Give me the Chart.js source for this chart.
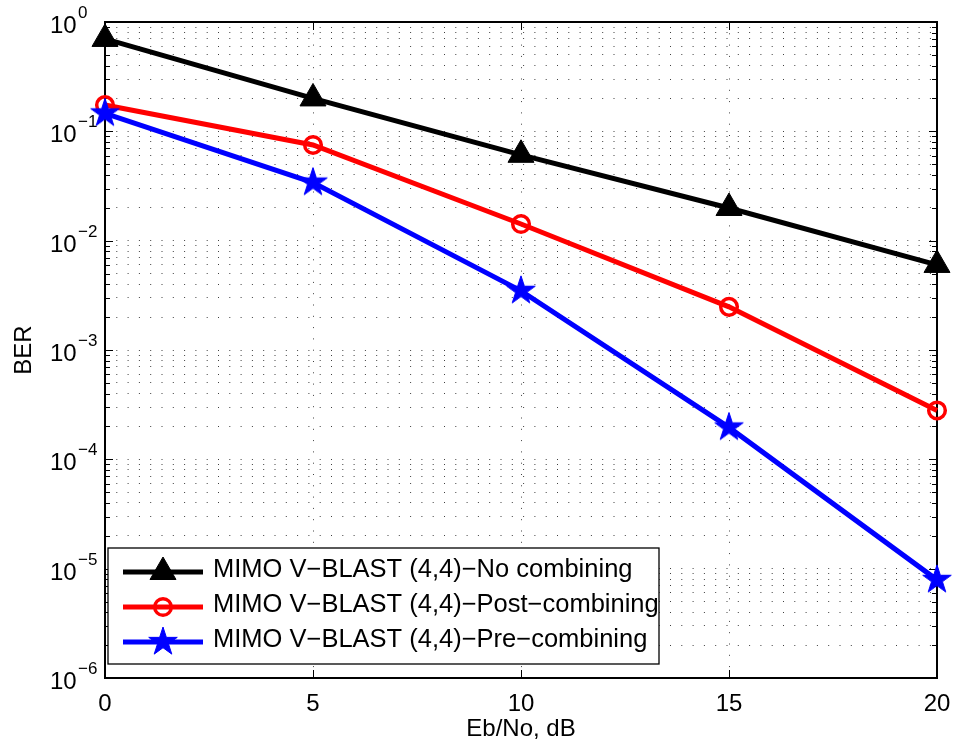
<!DOCTYPE html>
<html>
<head>
<meta charset="utf-8">
<title>BER vs Eb/No</title>
<script src="https://cdn.jsdelivr.net/npm/chart.js@4.4.1/dist/chart.umd.min.js"></script>
<style>
  html, body { margin: 0; padding: 0; background: #fff; }
  canvas { display: block; }
</style>
</head>
<body>
<canvas id="ber" width="954" height="749"></canvas>
<script>
// Eb/No points (dB) and measured bit error rates
const ebNo = [0, 5, 10, 15, 20];
const berNoCombining   = [0.70, 0.20, 0.061, 0.0199, 0.0060];
const berPostCombining = [0.174, 0.075, 0.0142, 0.00248, 0.00028];
const berPreCombining  = [0.146, 0.034, 0.00348, 0.000196, 0.0000079];

const seriesLabels = [
  'MIMO V\u2212BLAST (4,4)\u2212No combining',
  'MIMO V\u2212BLAST (4,4)\u2212Post\u2212combining',
  'MIMO V\u2212BLAST (4,4)\u2212Pre\u2212combining'
];

// axis ticks
const xTicks = [0, 5, 10, 15, 20];
const yExponents = [0, -1, -2, -3, -4, -5, -6];
const yMantissas = [1, 2, 3, 4, 5, 6, 7, 8, 9];

const FONT = "'Liberation Sans', Arial, Helvetica, sans-serif";

// filled five-point star used as a marker
function makeStar(R, color) {
  const size = Math.ceil(R * 2 + 4);
  const c = document.createElement('canvas');
  c.width = size; c.height = size;
  const g = c.getContext('2d');
  const cx = size / 2, cy = size / 2;
  g.beginPath();
  for (let i = 0; i < 10; i++) {
    const r = i % 2 ? R * 0.382 : R;
    const a = -Math.PI / 2 + i * Math.PI / 5;
    g.lineTo(cx + r * Math.cos(a), cy + r * Math.sin(a));
  }
  g.closePath();
  g.fillStyle = color; g.fill();
  g.strokeStyle = color; g.lineWidth = 1; g.stroke();
  return c;
}
const blueStar = makeStar(15, '#0000ff');

function toPoints(ys) { return ebNo.map((x, i) => ({ x: x, y: ys[i] })); }

// y tick values: every mantissa of every decade
function buildLogTicks() {
  const ticks = [];
  yExponents.forEach(e => {
    yMantissas.forEach(m => {
      const v = m * Math.pow(10, e);
      if (v <= 1 + 1e-12) ticks.push({ value: v, major: m === 1 });
    });
  });
  return ticks.sort((a, b) => a.value - b.value);
}

const frameAndTicks = {
  id: 'frameAndTicks',
  beforeDatasetsDraw(chart) {
    const { ctx, chartArea: a, scales: { x, y } } = chart;
    ctx.save();
    ctx.strokeStyle = '#000';
    ctx.lineWidth = 1;
    ctx.beginPath();
    xTicks.forEach(v => {
      const px = Math.round(x.getPixelForValue(v)) + 0.5;
      ctx.moveTo(px, a.bottom); ctx.lineTo(px, a.bottom - 8);
      ctx.moveTo(px, a.top); ctx.lineTo(px, a.top + 8);
    });
    y.ticks.forEach(t => {
      const py = Math.round(y.getPixelForValue(t.value)) + 0.5;
      const len = t.major ? 8 : 5;
      ctx.moveTo(a.left, py); ctx.lineTo(a.left + len, py);
      ctx.moveTo(a.right, py); ctx.lineTo(a.right - len, py);
    });
    ctx.stroke();
    ctx.lineWidth = 2;
    ctx.strokeRect(Math.round(a.left), Math.round(a.top), Math.round(a.right - a.left), Math.round(a.bottom - a.top));
    ctx.restore();
  },
  afterDatasetsDraw(chart) {
    const { ctx } = chart;
    const box = { left: 108, top: 548, right: 659, bottom: 664 };
    ctx.save();
    ctx.fillStyle = '#fff';
    ctx.fillRect(box.left, box.top, box.right - box.left, box.bottom - box.top);
    ctx.strokeStyle = '#000';
    ctx.lineWidth = 1.3;
    ctx.strokeRect(box.left, box.top, box.right - box.left, box.bottom - box.top);
    chart.data.datasets.forEach((ds, i) => {
      const rowY = 572 + i * 35;
      ctx.strokeStyle = ds.borderColor;
      ctx.lineWidth = ds.borderWidth;
      ctx.beginPath();
      ctx.moveTo(123, rowY); ctx.lineTo(203, rowY);
      ctx.stroke();
      ctx.fillStyle = ds.pointBackgroundColor;
      ctx.strokeStyle = ds.pointBorderColor;
      ctx.lineWidth = ds.pointBorderWidth;
      Chart.helpers.drawPoint(ctx, {
        pointStyle: ds.pointStyle, radius: ds.pointRadius, rotation: 0, borderWidth: ds.pointBorderWidth
      }, 163, rowY);
      ctx.fillStyle = '#000';
      ctx.font = '25.5px ' + FONT;
      ctx.textAlign = 'left';
      ctx.textBaseline = 'middle';
      ctx.fillText(ds.label, 213, rowY - 2);
    });
    ctx.restore();
  },
  afterDraw(chart) {
    const { ctx, scales: { y } } = chart;
    ctx.save();
    ctx.fillStyle = '#000';
    ctx.textAlign = 'left';
    ctx.textBaseline = 'alphabetic';
    yExponents.forEach(e => {
      const py = y.getPixelForValue(Math.pow(10, e));
      ctx.font = '24px ' + FONT;
      ctx.fillText('10', 50, py + 11);
      ctx.font = '17px ' + FONT;
      ctx.fillText(e === 0 ? '0' : '\u2212' + Math.abs(e), 78, py - 4);
    });
    ctx.restore();
  }
};

const gridStyle = { color: 'rgba(0,0,0,0.75)', lineWidth: 1, drawTicks: false };
const gridBorder = { display: false, dash: [1, 10.3] };

new Chart(document.getElementById('ber'), {
  type: 'line',
  data: {
    datasets: [
      {
        label: seriesLabels[0], data: toPoints(berNoCombining),
        borderColor: '#000000', backgroundColor: '#000000', borderWidth: 5,
        pointStyle: 'triangle', pointRadius: 15, pointBorderWidth: 1,
        pointBackgroundColor: '#000000', pointBorderColor: '#000000',
        order: 3, clip: false
      },
      {
        label: seriesLabels[1], data: toPoints(berPostCombining),
        borderColor: '#ff0000', backgroundColor: '#ff0000', borderWidth: 5,
        pointStyle: 'circle', pointRadius: 8.3, pointBorderWidth: 3.5,
        pointBackgroundColor: 'rgba(0,0,0,0)', pointBorderColor: '#ff0000',
        order: 2, clip: false
      },
      {
        label: seriesLabels[2], data: toPoints(berPreCombining),
        borderColor: '#0000ff', backgroundColor: '#0000ff', borderWidth: 5,
        pointStyle: blueStar, pointRadius: 15, pointBorderWidth: 0,
        pointBackgroundColor: '#0000ff', pointBorderColor: '#0000ff',
        order: 1, clip: false
      }
    ]
  },
  options: {
    responsive: false,
    animation: false,
    devicePixelRatio: 1,
    events: [],
    layout: { padding: { top: 22, right: 17, left: 0, bottom: 0 } },
    plugins: { legend: { display: false }, tooltip: { enabled: false } },
    scales: {
      x: {
        type: 'linear', min: 0, max: 20,
        afterBuildTicks: s => { s.ticks = xTicks.map(v => ({ value: v })); },
        afterFit: s => { s.height = 71; s.paddingLeft = 0; s.paddingRight = 0; },
        grid: gridStyle, border: gridBorder,
        ticks: { font: { family: FONT, size: 24 }, color: '#000', padding: 12, maxRotation: 0, autoSkip: false },
        title: { display: true, text: 'Eb/No, dB', font: { family: FONT, size: 24 }, color: '#000', padding: { top: 0, bottom: 5 } }
      },
      y: {
        type: 'logarithmic', min: 1e-6, max: 1,
        afterBuildTicks: s => { s.ticks = buildLogTicks(); },
        afterFit: s => { s.width = 105; s.paddingTop = 0; s.paddingBottom = 0; },
        grid: gridStyle, border: gridBorder,
        ticks: { display: false },
        title: { display: true, text: 'BER', font: { family: FONT, size: 24 }, color: '#000', padding: { top: 10, bottom: 0 } }
      }
    }
  },
  plugins: [frameAndTicks]
});
</script>
</body>
</html>
